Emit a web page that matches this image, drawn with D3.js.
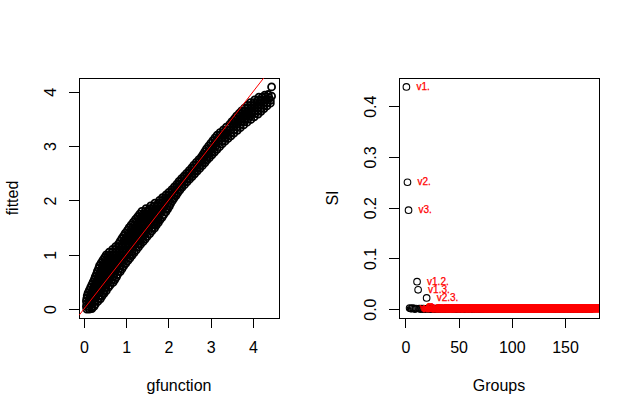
<!DOCTYPE html>
<html><head><meta charset="utf-8">
<script src="https://cdn.jsdelivr.net/npm/d3@7"></script>
<style>body{margin:0;background:#fff}svg{display:block}</style>
</head><body><svg id="c" width="640" height="417"></svg>
<script>
// ---- Left panel data: [gfunction, fitted] ----
const obs = [
[0.07,0.00],[0.13,0.00],[0.19,0.01],
[0.06,0.05],[0.12,0.05],[0.18,0.04],[0.24,0.05],
[0.07,0.10],[0.13,0.10],[0.20,0.10],[0.27,0.09],
[0.06,0.15],[0.12,0.15],[0.19,0.15],[0.26,0.15],[0.33,0.14],
[0.07,0.20],[0.14,0.20],[0.21,0.20],[0.28,0.20],[0.35,0.20],[0.39,0.19],
[0.08,0.25],[0.15,0.25],[0.22,0.25],[0.29,0.25],[0.36,0.25],[0.43,0.24],
[0.10,0.30],[0.17,0.30],[0.24,0.30],[0.31,0.30],[0.38,0.30],[0.45,0.30],[0.48,0.29],
[0.13,0.35],[0.20,0.35],[0.27,0.35],[0.34,0.35],[0.41,0.35],[0.48,0.35],[0.53,0.34],
[0.16,0.40],[0.23,0.40],[0.30,0.40],[0.37,0.40],[0.44,0.40],[0.51,0.40],[0.58,0.40],
[0.19,0.45],[0.26,0.45],[0.33,0.45],[0.40,0.45],[0.47,0.45],[0.54,0.45],[0.62,0.44],
[0.22,0.50],[0.29,0.50],[0.36,0.50],[0.43,0.50],[0.50,0.50],[0.57,0.50],[0.64,0.50],[0.69,0.49],
[0.25,0.55],[0.32,0.55],[0.39,0.55],[0.46,0.55],[0.53,0.55],[0.60,0.55],[0.67,0.55],[0.73,0.54],
[0.27,0.60],[0.34,0.60],[0.41,0.60],[0.48,0.60],[0.55,0.60],[0.62,0.60],[0.70,0.60],[0.77,0.59],
[0.30,0.65],[0.37,0.65],[0.44,0.65],[0.51,0.65],[0.58,0.65],[0.65,0.65],[0.72,0.65],[0.80,0.64],
[0.32,0.70],[0.39,0.70],[0.46,0.70],[0.53,0.70],[0.60,0.70],[0.67,0.70],[0.74,0.70],[0.81,0.70],[0.86,0.69],
[0.35,0.75],[0.42,0.75],[0.49,0.75],[0.56,0.75],[0.63,0.75],[0.70,0.75],[0.77,0.75],[0.84,0.75],[0.90,0.74],
[0.37,0.80],[0.44,0.80],[0.51,0.80],[0.58,0.80],[0.65,0.80],[0.72,0.80],[0.79,0.80],[0.87,0.80],[0.94,0.79],
[0.41,0.85],[0.48,0.85],[0.55,0.85],[0.62,0.85],[0.69,0.85],[0.76,0.85],[0.83,0.85],[0.91,0.85],[0.99,0.84],
[0.45,0.90],[0.52,0.90],[0.59,0.90],[0.66,0.90],[0.73,0.90],[0.80,0.90],[0.88,0.90],[0.96,0.90],[1.04,0.89],
[0.49,0.95],[0.56,0.95],[0.63,0.95],[0.70,0.95],[0.78,0.95],[0.86,0.95],[0.94,0.95],[1.02,0.95],[1.09,0.94],
[0.53,1.00],[0.61,1.00],[0.69,1.00],[0.77,1.00],[0.85,1.00],[0.93,1.00],[1.01,1.00],[1.08,1.00],[1.14,0.99],
[0.60,1.05],[0.68,1.05],[0.76,1.05],[0.84,1.05],[0.92,1.05],[1.00,1.05],[1.07,1.05],[1.13,1.05],[1.19,1.04],
[0.68,1.10],[0.76,1.10],[0.84,1.10],[0.92,1.10],[1.00,1.10],[1.08,1.10],[1.16,1.10],[1.24,1.09],
[0.75,1.15],[0.83,1.15],[0.91,1.15],[0.99,1.15],[1.07,1.15],[1.15,1.15],[1.22,1.15],[1.29,1.14],
[0.82,1.20],[0.90,1.20],[0.98,1.20],[1.06,1.20],[1.14,1.20],[1.21,1.20],[1.28,1.20],[1.34,1.19],
[0.86,1.25],[0.94,1.25],[1.02,1.25],[1.10,1.25],[1.18,1.25],[1.26,1.25],[1.33,1.25],[1.40,1.24],
[0.90,1.30],[0.98,1.30],[1.06,1.30],[1.14,1.30],[1.22,1.30],[1.30,1.30],[1.38,1.30],[1.45,1.29],
[0.94,1.35],[1.02,1.35],[1.10,1.35],[1.18,1.35],[1.26,1.35],[1.34,1.35],[1.42,1.35],[1.50,1.34],
[0.98,1.40],[1.06,1.40],[1.14,1.40],[1.22,1.40],[1.30,1.40],[1.38,1.40],[1.47,1.40],[1.56,1.39],
[1.03,1.45],[1.11,1.45],[1.19,1.45],[1.27,1.45],[1.35,1.45],[1.44,1.45],[1.53,1.45],[1.61,1.44],
[1.07,1.50],[1.15,1.50],[1.23,1.50],[1.31,1.50],[1.39,1.50],[1.47,1.50],[1.55,1.50],[1.62,1.50],[1.67,1.49],
[1.12,1.55],[1.20,1.55],[1.28,1.55],[1.36,1.55],[1.44,1.55],[1.52,1.55],[1.60,1.55],[1.66,1.55],[1.71,1.54],
[1.17,1.60],[1.25,1.60],[1.33,1.60],[1.41,1.60],[1.49,1.60],[1.57,1.60],[1.65,1.60],[1.71,1.60],[1.76,1.59],
[1.22,1.65],[1.30,1.65],[1.38,1.65],[1.46,1.65],[1.54,1.65],[1.62,1.65],[1.70,1.65],[1.76,1.65],[1.80,1.64],
[1.27,1.70],[1.35,1.70],[1.43,1.70],[1.51,1.70],[1.59,1.70],[1.67,1.70],[1.75,1.70],[1.85,1.69],
[1.32,1.75],[1.40,1.75],[1.48,1.75],[1.56,1.75],[1.64,1.75],[1.72,1.75],[1.80,1.75],[1.89,1.74],
[1.37,1.80],[1.45,1.80],[1.53,1.80],[1.61,1.80],[1.69,1.80],[1.77,1.80],[1.85,1.80],[1.94,1.79],
[1.47,1.85],[1.55,1.85],[1.63,1.85],[1.71,1.85],[1.79,1.85],[1.87,1.85],[1.94,1.85],[1.98,1.84],
[1.58,1.90],[1.66,1.90],[1.74,1.90],[1.82,1.90],[1.90,1.90],[1.97,1.90],[2.02,1.89],
[1.68,1.95],[1.76,1.95],[1.84,1.95],[1.92,1.95],[1.99,1.95],[2.05,1.94],
[1.79,2.00],[1.87,2.00],[1.95,2.00],[2.02,2.00],[2.09,1.99],
[1.86,2.05],[1.93,2.05],[2.00,2.05],[2.07,2.05],[2.13,2.04],
[1.94,2.10],[2.01,2.10],[2.08,2.10],[2.14,2.10],[2.18,2.09],
[2.01,2.15],[2.08,2.15],[2.15,2.15],[2.22,2.14],
[2.08,2.20],[2.15,2.20],[2.21,2.20],[2.27,2.19],
[2.14,2.25],[2.20,2.25],[2.26,2.25],[2.32,2.24],
[2.20,2.30],[2.26,2.30],[2.32,2.30],[2.38,2.29],
[2.25,2.35],[2.31,2.35],[2.38,2.35],[2.44,2.34],
[2.31,2.40],[2.37,2.40],[2.44,2.40],[2.50,2.39],
[2.37,2.45],[2.43,2.45],[2.50,2.45],[2.56,2.44],
[2.43,2.50],[2.49,2.50],[2.56,2.50],[2.62,2.49],
[2.49,2.55],[2.55,2.55],[2.62,2.55],[2.68,2.54],
[2.55,2.60],[2.61,2.60],[2.68,2.60],[2.74,2.59],
[2.60,2.65],[2.67,2.65],[2.74,2.65],[2.80,2.64],
[2.66,2.70],[2.73,2.70],[2.80,2.70],[2.86,2.69],
[2.72,2.75],[2.79,2.75],[2.85,2.75],[2.91,2.74],
[2.78,2.80],[2.84,2.80],[2.91,2.80],[2.97,2.79],
[2.82,2.85],[2.89,2.85],[2.96,2.85],[3.03,2.84],
[2.86,2.90],[2.94,2.90],[3.02,2.90],[3.09,2.89],
[2.90,2.95],[2.98,2.95],[3.06,2.95],[3.15,2.94],
[2.95,3.00],[3.03,3.00],[3.12,3.00],[3.21,2.99],
[3.00,3.05],[3.09,3.05],[3.18,3.05],[3.27,3.04],
[3.05,3.10],[3.13,3.10],[3.21,3.10],[3.28,3.10],[3.34,3.09],
[3.10,3.15],[3.18,3.15],[3.26,3.15],[3.34,3.15],[3.41,3.14],
[3.15,3.20],[3.23,3.20],[3.31,3.20],[3.40,3.20],[3.48,3.19],
[3.22,3.25],[3.30,3.25],[3.38,3.25],[3.47,3.25],[3.55,3.24],
[3.30,3.30],[3.38,3.30],[3.46,3.30],[3.55,3.30],[3.63,3.29],
[3.37,3.35],[3.45,3.35],[3.53,3.35],[3.62,3.35],[3.70,3.34],
[3.45,3.40],[3.53,3.40],[3.61,3.40],[3.70,3.40],[3.78,3.39],
[3.50,3.45],[3.58,3.45],[3.66,3.45],[3.74,3.45],[3.80,3.45],[3.86,3.44],
[3.56,3.50],[3.64,3.50],[3.72,3.50],[3.80,3.50],[3.88,3.50],[3.95,3.49],
[3.61,3.55],[3.69,3.55],[3.77,3.55],[3.85,3.55],[3.93,3.55],[4.03,3.54],
[3.67,3.60],[3.75,3.60],[3.83,3.60],[3.91,3.60],[3.98,3.60],[4.05,3.60],[4.12,3.59],
[3.73,3.65],[3.81,3.65],[3.89,3.65],[3.97,3.65],[4.04,3.65],[4.11,3.65],[4.19,3.64],
[3.80,3.70],[3.88,3.70],[3.96,3.70],[4.04,3.70],[4.12,3.70],[4.19,3.70],[4.26,3.69],
[3.87,3.75],[3.95,3.75],[4.03,3.75],[4.11,3.75],[4.19,3.75],[4.26,3.75],[4.33,3.74],
[3.94,3.80],[4.02,3.80],[4.10,3.80],[4.18,3.80],[4.26,3.80],[4.34,3.80],[4.41,3.79],
[4.04,3.85],[4.12,3.85],[4.20,3.85],[4.28,3.85],[4.35,3.85],[4.41,3.84],
[4.14,3.90],[4.22,3.90],[4.30,3.90],[4.38,3.89],
[4.28,3.94],[4.36,3.95],
[4.44,3.92],[4.44,4.09]
];
const xTicksL = [0, 1, 2, 3, 4];
const yTicksL = [0, 1, 2, 3, 4];

// ---- Right panel data ----
const variables = ["v1","v2","v3","v4","v5","v6","v7","v8","v9","v10"];
const SI = [
0.438,0.250,0.195,0.002,0.001,0.001,0.002,0.001,0.000,0.001,
0.054,0.038,0.001,0.000,0.001,0.000,0.001,0.000,0.000,0.022,
0.001,0.000,0.000,0.001,0.000,0.000,0.000,0.001,0.000,0.000,
0.000,0.001,0.000,0.000,0.000,0.000,0.001,0.000,0.000,0.000,
0.001,0.000,0.000,0.000,0.001,0.000,0.000,0.000,0.000,0.001,
0.000,0.000,0.001,0.000,0.000,0.000,0.000,0.000,0.001,0.000,
0.000,0.000,0.000,0.001,0.000,0.000,0.000,0.000,0.000,0.000,
0.001,0.000,0.000,0.000,0.000,0.000,0.001,0.000,0.000,0.000,
0.000,0.000,0.000,0.000,0.001,0.000,0.000,0.000,0.000,0.000,
0.000,0.001,0.000,0.000,0.000,0.000,0.000,0.000,0.001,0.000,
0.000,0.000,0.000,0.000,0.000,0.001,0.000,0.000,0.000,0.000,
0.000,0.000,0.001,0.000,0.000,0.000,0.000,0.000,0.000,0.000,
0.001,0.000,0.000,0.000,0.000,0.000,0.000,0.001,0.000,0.000,
0.000,0.000,0.000,0.000,0.000,0.000,0.000,0.000,0.001,0.000,
0.000,0.000,0.000,0.001,0.000,0.000,0.000,0.000,0.000,0.000,
0.000,0.000,0.000,0.000,0.001,0.000,0.000,0.000,0.000,0.000,
0.000,0.000,0.000,0.000,0.000,0.000,0.001,0.000,0.000,0.000,
0.000,0.000,0.000,0.000,0.000
];
const xTicksR = [0, 50, 100, 150];
const yTicksR = [0, 0.1, 0.2, 0.3, 0.4];

// group labels: all subsets of size 1..3 of the variables
const groupNames = [];
for (let i = 0; i < variables.length; i++) groupNames.push(variables[i] + ".");
for (let i = 0; i < variables.length; i++) for (let j = i + 1; j < variables.length; j++)
  groupNames.push(variables[i] + "." + variables[j].slice(1) + ".");
for (let i = 0; i < variables.length; i++) for (let j = i + 1; j < variables.length; j++) for (let k = j + 1; k < variables.length; k++)
  groupNames.push(variables[i] + "." + variables[j].slice(1) + "." + variables[k].slice(1) + ".");
const groups = SI.map((v, i) => ({ g: i + 1, si: v, name: groupNames[i] }));

// ---- Drawing ----
const FONT = '"Liberation Sans", Arial, Helvetica, sans-serif';
const LINE = 19.2;
const svg = d3.select("#c").style("font-family", FONT);
const padR = e => { const r = e[1] - e[0]; return [e[0] - 0.04 * r, e[1] + 0.04 * r]; };
const defs = svg.append("defs");

function panel(box, xs, ys, xTicks, yTicks, xFmt, yFmt, xlab, ylab, id) {
  defs.append("clipPath").attr("id", id).append("rect")
    .attr("x", box.x0).attr("y", box.y0).attr("width", box.x1 - box.x0).attr("height", box.y1 - box.y0);
  const ax = svg.append("g").attr("transform", `translate(0,${box.y1})`)
    .call(d3.axisBottom(xs).tickValues(xTicks).tickSize(LINE / 2).tickSizeOuter(0).tickFormat(xFmt));
  ax.select(".domain").remove();
  ax.selectAll("line").attr("stroke", "#000").attr("shape-rendering", "crispEdges");
  ax.selectAll("text").attr("y", 1.8 * LINE).attr("dy", 0).attr("font-size", 16).attr("fill", "#000").attr("font-family", FONT);
  ax.append("line").attr("x1", xs(xTicks[0])).attr("x2", xs(xTicks[xTicks.length - 1]))
    .attr("stroke", "#000").attr("shape-rendering", "crispEdges");
  const ay = svg.append("g").attr("transform", `translate(${box.x0},0)`)
    .call(d3.axisLeft(ys).tickValues(yTicks).tickSize(LINE / 2).tickSizeOuter(0).tickFormat(yFmt));
  ay.select(".domain").remove();
  ay.selectAll("line").attr("stroke", "#000").attr("shape-rendering", "crispEdges");
  ay.selectAll("text").attr("x", null).attr("dy", 0).attr("text-anchor", "middle")
    .attr("transform", `translate(${-1.2 * LINE},0) rotate(-90)`)
    .attr("font-size", 16).attr("fill", "#000").attr("font-family", FONT);
  svg.append("rect").attr("x", box.x0).attr("y", box.y0).attr("width", box.x1 - box.x0)
    .attr("height", box.y1 - box.y0).attr("fill", "none").attr("stroke", "#000").attr("shape-rendering", "crispEdges");
  svg.append("text").attr("x", (box.x0 + box.x1) / 2).attr("y", box.y1 + 3.8 * LINE)
    .attr("text-anchor", "middle").attr("font-size", 16).text(xlab);
  svg.append("text").attr("transform", `translate(${box.x0 - 3.2 * LINE},${(box.y0 + box.y1) / 2}) rotate(-90)`)
    .attr("text-anchor", "middle").attr("font-size", 16).text(ylab);
}

// Left panel
const BL = { x0: 79, x1: 279, y0: 78, y1: 318 };
const xL = d3.scaleLinear().domain(padR(d3.extent(obs, d => d[0]))).range([BL.x0, BL.x1]);
const yL = d3.scaleLinear().domain(padR(d3.extent(obs, d => d[1]))).range([BL.y1, BL.y0]);
svg.append("g").attr("clip-path", "url(#clipL)").selectAll("circle").data(obs).join("circle")
  .attr("cx", d => xL(d[0])).attr("cy", d => yL(d[1])).attr("r", 3.5)
  .attr("fill", "none").attr("stroke", "#000").attr("stroke-width", 1.8);
panel(BL, xL, yL, xTicksL, yTicksL, d3.format("d"), d3.format("d"), "gfunction", "fitted", "clipL");
const dL = xL.domain();
svg.append("line").attr("clip-path", "url(#clipL)")
  .attr("x1", xL(dL[0])).attr("y1", yL(dL[0])).attr("x2", xL(dL[1])).attr("y2", yL(dL[1]))
  .attr("stroke", "#ff0000").attr("stroke-width", 1);

// Right panel
const BR = { x0: 399, x1: 599, y0: 78, y1: 318 };
const xR = d3.scaleLinear().domain(padR(d3.extent(groups, d => d.g))).range([BR.x0, BR.x1]);
const yR = d3.scaleLinear().domain(padR(d3.extent(groups, d => d.si))).range([BR.y1, BR.y0]);
svg.append("g").attr("clip-path", "url(#clipR)").selectAll("circle").data(groups).join("circle")
  .attr("cx", d => xR(d.g)).attr("cy", d => yR(d.si)).attr("r", 3.3)
  .attr("fill", "none").attr("stroke", "#000").attr("stroke-width", 1.1);
svg.append("g").attr("clip-path", "url(#clipR)").selectAll("text").data(groups).join("text")
  .attr("x", d => xR(d.g) + 10).attr("y", d => yR(d.si)).attr("dy", "0.32em")
  .attr("font-size", 10).attr("fill", "#ff0000")
  .attr("stroke", "#ff0000").attr("stroke-width", 0.25).text(d => d.name);
panel(BR, xR, yR, xTicksR, yTicksR, d3.format("d"), d3.format(".1f"), "Groups", "SI", "clipR");
</script></body></html>
